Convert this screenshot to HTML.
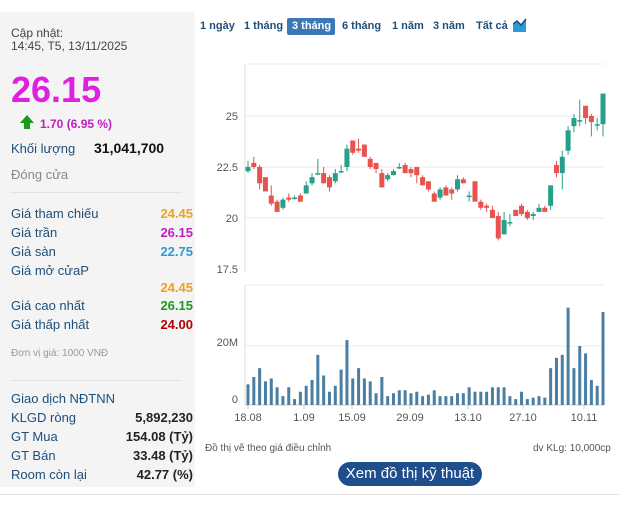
<!DOCTYPE html>
<html><head><meta charset="utf-8"><style>
body{margin:0;width:640px;height:506px;background:#fff;font-family:"Liberation Sans",sans-serif;position:relative;overflow:hidden}
.p{position:absolute;white-space:nowrap}
.l{color:#1f4e79;font-size:13px}
.r{font-size:13px;font-weight:bold;text-align:right;right:447px}
#left{position:absolute;left:0;top:12px;width:195px;height:475px;background:#f4f4f4}
.tab{position:absolute;top:20px;font-size:11px;font-weight:bold;color:#1f4e79}
</style></head><body>
<div id="left"></div>
<div class="p" style="left:11px;top:27px;font-size:12px;color:#444;line-height:13px">Cập nhật:<br>14:45, T5, 13/11/2025</div>
<div class="p" style="left:11px;top:70px;font-size:36px;font-weight:bold;color:#e020e0;line-height:40px">26.15</div>
<div class="p" style="left:20px;top:115px;width:0;height:0;border-left:7px solid transparent;border-right:7px solid transparent;border-bottom:8px solid #1a9a1a"></div>
<div class="p" style="left:24px;top:122px;width:6px;height:7px;background:#1a9a1a"></div>
<div class="p" style="left:40px;top:117px;font-size:12px;font-weight:bold;color:#c020c0">1.70 (6.95 %)</div>
<div class="p l" style="left:11px;top:141px">Khối lượng</div>
<div class="p" style="left:94px;top:140px;font-size:14px;font-weight:bold;color:#111">31,041,700</div>
<div class="p" style="left:11px;top:167px;font-size:13px;color:#888">Đóng cửa</div>
<div class="p" style="left:10px;top:192px;width:172px;height:1px;background:#e2e2e2"></div>
<div class="p l" style="left:11px;top:206px">Giá tham chiếu</div><div class="p r" style="top:206px;color:#f0a020">24.45</div>
<div class="p l" style="left:11px;top:225px">Giá trần</div><div class="p r" style="top:225px;color:#c020c0">26.15</div>
<div class="p l" style="left:11px;top:244px">Giá sàn</div><div class="p r" style="top:244px;color:#2a9ad8">22.75</div>
<div class="p l" style="left:11px;top:263px">Giá mở cửaP</div>
<div class="p r" style="top:280px;color:#f0a020">24.45</div>
<div class="p l" style="left:11px;top:298px">Giá cao nhất</div><div class="p r" style="top:298px;color:#1a9a1a">26.15</div>
<div class="p l" style="left:11px;top:317px">Giá thấp nhất</div><div class="p r" style="top:317px;color:#b00000">24.00</div>
<div class="p" style="left:11px;top:348px;font-size:10px;color:#999">Đơn vị giá: 1000 VNĐ</div>
<div class="p" style="left:10px;top:380px;width:172px;height:1px;background:#e2e2e2"></div>
<div class="p l" style="left:11px;top:391px">Giao dịch NĐTNN</div>
<div class="p l" style="left:11px;top:410px">KLGD ròng</div><div class="p r" style="top:410px;color:#222">5,892,230</div>
<div class="p l" style="left:11px;top:429px">GT Mua</div><div class="p r" style="top:429px;color:#222">154.08 (Tỷ)</div>
<div class="p l" style="left:11px;top:448px">GT Bán</div><div class="p r" style="top:448px;color:#222">33.48 (Tỷ)</div>
<div class="p l" style="left:11px;top:467px">Room còn lại</div><div class="p r" style="top:467px;color:#222">42.77 (%)</div>
<div class="p" style="left:0;top:494px;width:620px;height:1px;background:#e4e4e4"></div>

<div class="tab" style="left:200px">1 ngày</div>
<div class="tab" style="left:244px">1 tháng</div>
<div class="p" style="left:287px;top:18px;width:48px;height:17px;background:#3a78b8;border-radius:2px"></div>
<div class="tab" style="left:292px;color:#fff">3 tháng</div>
<div class="tab" style="left:342px">6 tháng</div>
<div class="tab" style="left:392px">1 năm</div>
<div class="tab" style="left:433px">3 năm</div>
<div class="tab" style="left:476px">Tất cả</div>
<svg class="p" style="left:513px;top:18px" width="14" height="14"><path d="M0 14V6L4 3L8 7L13 1V14Z" fill="#2a9ad8"/><path d="M0 6L4 3L8 7L13 1" stroke="#1f4e79" fill="none" stroke-width="1.5"/></svg>

<svg id="c" class="p" style="left:0;top:0" width="640" height="506"></svg>
<div class="p" style="left:205px;top:443px;font-size:10px;color:#555">Đồ thị vẽ theo giá điều chỉnh</div>
<div class="p" style="left:533px;top:443px;font-size:10px;color:#555">dv KLg: 10,000cp</div>
<div class="p" style="left:338px;top:462px;width:144px;height:24px;border-radius:12px;background:#1f4e8c;color:#fff;font-size:15px;text-align:center;line-height:24px">Xem đồ thị kỹ thuật</div>
<script>
var C=[[22.3,22.5,22.8,22.2],[22.7,22.5,23.0,22.4],[22.5,21.7,22.6,21.4],[22.0,21.3,22.0,21.3],[21.1,20.7,21.6,20.6],[20.8,20.3,20.9,20.3],[20.5,20.9,21.0,20.4],[21.0,20.9,21.2,20.8],[21.0,21.0,21.1,20.9],[21.1,20.8,21.2,20.8],[21.2,21.6,21.8,21.2],[21.7,22.0,22.2,21.6],[22.2,22.2,22.9,22.1],[22.2,21.7,22.5,21.7],[22.0,21.5,22.1,21.3],[21.8,22.2,22.4,21.7],[22.3,22.3,22.6,22.2],[22.5,23.4,23.6,22.3],[23.8,23.2,23.8,23.1],[23.4,23.3,23.9,23.2],[23.6,23.0,23.6,23.0],[22.9,22.5,23.0,22.4],[22.7,22.4,22.7,22.2],[22.2,21.5,22.4,21.5],[21.9,22.1,22.2,21.8],[22.1,22.3,22.4,22.1],[22.5,22.5,22.7,22.4],[22.6,22.2,22.7,22.2],[22.4,22.2,22.5,22.0],[22.5,22.1,22.5,21.7],[22.0,21.6,22.1,21.6],[21.8,21.4,21.8,21.3],[21.2,20.8,21.3,20.8],[21.0,21.4,21.5,20.9],[21.5,21.1,21.6,21.1],[21.4,21.2,21.5,20.9],[21.4,21.9,22.1,21.3],[21.9,21.7,22.0,21.7],[21.1,21.1,21.3,20.8],[21.8,20.8,21.8,20.8],[20.8,20.5,20.9,20.4],[20.6,20.5,20.7,20.3],[20.4,20.0,20.6,20.0],[20.1,19.0,20.3,18.9],[19.2,19.9,20.3,19.2],[19.8,19.8,20.2,19.6],[20.4,20.1,20.4,20.1],[20.6,20.2,20.7,20.1],[20.3,20.0,20.4,19.9],[20.1,20.2,20.3,19.9],[20.3,20.5,20.7,20.3],[20.5,20.3,20.6,20.3],[20.6,21.6,21.6,20.4],[22.6,22.2,22.8,22.0],[22.2,23.0,23.3,21.4],[23.3,24.3,24.5,23.1],[24.5,24.9,25.1,24.2],[24.8,24.8,25.8,24.5],[25.5,24.9,25.5,24.6],[25.0,24.7,25.1,24.0],[24.6,24.6,24.9,24.3],[24.6,26.1,26.1,24.0]];
var V=[7,9.5,12.5,8,9,6,3,6,2,4.5,6.5,8.5,17,10,4.5,6.5,12,22,9,12.5,9,8,4,9.5,3,4,5,5,4,4.5,3,3.5,5,3,3,3,4,4,6,4.5,4.5,4.5,6,6,6,3,2,4.5,2,2.5,3,2.5,12.5,16,17,33,12.5,20,17.5,8.5,6.5,31.5];
var s='';
function py(p){return 116+(25-p)*20.4;}
s+='<line x1="245" y1="64" x2="245" y2="272" stroke="#ddd"/><line x1="245" y1="64" x2="604" y2="64" stroke="#eee"/>';
[[25,'25'],[22.5,'22.5'],[20,'20'],[17.5,'17.5']].forEach(function(t){var y=py(t[0]);if(t[0]>18)s+='<line x1="245" y1="'+y+'" x2="604" y2="'+y+'" stroke="#e8e8e8"/>';s+='<text x="238" y="'+(y+4)+'" font-size="11" fill="#555" text-anchor="end">'+t[1]+'</text>';});
s+='<line x1="245" y1="285" x2="245" y2="405" stroke="#ddd"/><line x1="245" y1="285" x2="604" y2="285" stroke="#eee"/><line x1="245" y1="346" x2="604" y2="346" stroke="#e8e8e8"/><line x1="245" y1="405" x2="604" y2="405" stroke="#ccc"/>';
s+='<text x="238" y="346" font-size="11" fill="#555" text-anchor="end">20M</text><text x="238" y="403" font-size="11" fill="#555" text-anchor="end">0</text>';
for(var i=0;i<62;i++){var x=248+i*5.82;var c=C[i];var col=c[1]>=c[0]?'#26a08a':'#e8534f';
s+='<line x1="'+x+'" y1="'+py(c[2])+'" x2="'+x+'" y2="'+py(c[3])+'" stroke="'+col+'"/>';
var t=py(Math.max(c[0],c[1])),b=py(Math.min(c[0],c[1]));if(b-t<1.5)b=t+1.5;
s+='<rect x="'+(x-2.5)+'" y="'+t+'" width="5" height="'+(b-t)+'" fill="'+col+'"/>';
var h=V[i]*2.95;s+='<rect x="'+(x-1.5)+'" y="'+(405-h)+'" width="3" height="'+h+'" fill="#4a7fa3"/>';}
[['18.08',248],['1.09',304],['15.09',352],['29.09',410],['13.10',468],['27.10',523],['10.11',584]].forEach(function(t){s+='<line x1="'+t[1]+'" y1="405" x2="'+t[1]+'" y2="409" stroke="#ccc"/><text x="'+t[1]+'" y="421" font-size="11" fill="#555" text-anchor="middle">'+t[0]+'</text>';});
document.getElementById('c').innerHTML=s;
</script>
</body></html>
